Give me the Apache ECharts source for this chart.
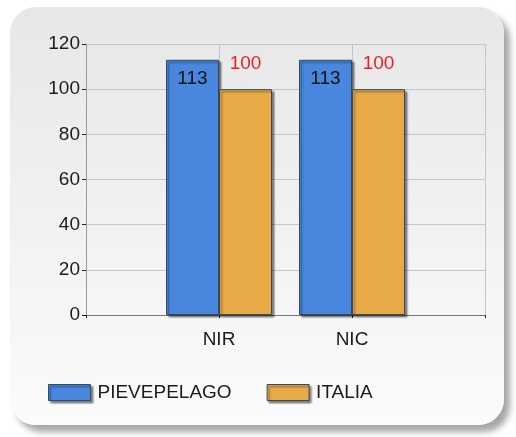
<!DOCTYPE html>
<html>
<head>
<meta charset="utf-8">
<script src="https://cdn.jsdelivr.net/npm/echarts@6/dist/echarts.min.js"></script>
<style>
  html, body { margin: 0; padding: 0; background: #fff; }
  #wrap { position: relative; width: 516px; height: 437px; overflow: hidden; }
  #panel {
    position: absolute; left: 10px; top: 7px; width: 494px; height: 418px;
    border-radius: 26px;
    background: linear-gradient(#e7e7e7, #fbfbfb);
    box-shadow: 6px 7px 6px rgba(0, 0, 0, 0.35);
  }
  #chart { position: absolute; left: 0; top: 0; width: 516px; height: 437px; }
</style>
</head>
<body>
<div id="wrap">
  <div id="panel"></div>
  <div id="chart"></div>
</div>
<script>
  // empty slots at both ends so the bar pairs sit on the inner ticks
  const categories = ["", "NIR", "NIC", ""];
  const pievepelago = ["-", 113, 113, "-"];
  const italia = ["-", 100, 100, "-"];
  const yTicks = { min: 0, max: 120, interval: 20 };

  const textColor = "#1c1c1c";
  const font = "Liberation Sans, Arial, sans-serif";

  const chart = echarts.init(document.getElementById("chart"), null, { renderer: "canvas" });

  const barShadow = {
    shadowColor: "rgba(0,0,0,0.45)",
    shadowBlur: 2,
    shadowOffsetX: 2,
    shadowOffsetY: 2,
  };

  const option = {
    animation: false,
    backgroundColor: "transparent",
    textStyle: { fontFamily: font },
    grid: { left: 86, top: 44, right: 31, bottom: 122 },
    legend: {
      left: 48,
      top: 383,
      padding: 0,
      itemWidth: 42,
      itemHeight: 16,
      itemGap: 35,
      icon: "rect",
      itemStyle: { borderColor: "#34495e", borderWidth: 1, shadowColor: "rgba(0,0,0,0.45)", shadowBlur: 2, shadowOffsetX: 2, shadowOffsetY: 2 },
      textStyle: { fontSize: 19, color: textColor, fontFamily: font, padding: [0, 0, 0, 2] },
      data: ["PIEVEPELAGO", "ITALIA"],
    },
    xAxis: {
      type: "category",
      data: categories,
      boundaryGap: false,
      axisLine: { lineStyle: { color: "#777", width: 1 } },
      axisTick: { show: true, length: 3, lineStyle: { color: "#222" } },
      axisLabel: { fontSize: 19, color: textColor, margin: 15 },
      splitLine: { show: true, lineStyle: { color: "#c6c6c6" } },
    },
    yAxis: {
      type: "value",
      min: yTicks.min,
      max: yTicks.max,
      interval: yTicks.interval,
      axisLine: { show: true, lineStyle: { color: "#999" } },
      axisTick: { show: true, length: 4, lineStyle: { color: "#222" } },
      axisLabel: { fontSize: 19, color: textColor, margin: 6 },
      splitLine: { show: true, lineStyle: { color: "#c6c6c6" } },
    },
    series: [
      {
        name: "PIEVEPELAGO",
        type: "bar",
        data: pievepelago,
        barWidth: 53,
        barGap: "0%",
        itemStyle: Object.assign({ color: "#4887dd", borderColor: "#34495e", borderWidth: 1 }, barShadow),
        label: {
          show: true,
          position: "insideTop",
          distance: 9,
          fontSize: 19,
          color: "#111",
        },
      },
      {
        name: "ITALIA",
        type: "bar",
        data: italia,
        barWidth: 53,
        barGap: "0%",
        itemStyle: Object.assign({ color: "#e8aa47", borderColor: "#34495e", borderWidth: 1 }, barShadow),
        label: {
          show: true,
          position: "top",
          distance: 16,
          fontSize: 19,
          color: "#e8202a",
        },
      },
    ],
  };

  chart.setOption(option);
</script>
</body>
</html>
